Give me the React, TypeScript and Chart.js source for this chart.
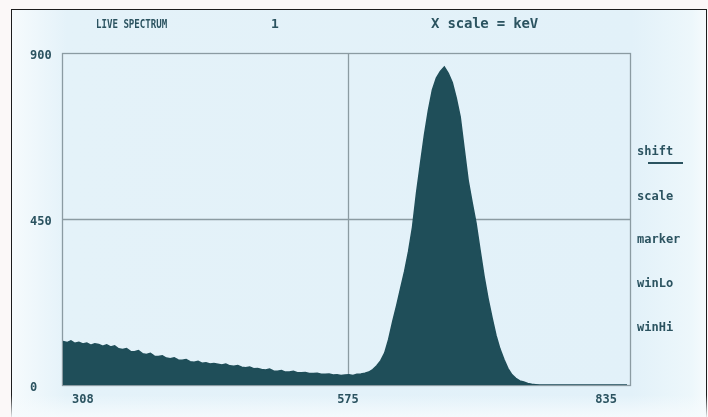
import React, { useEffect, useRef } from "react";
import { Chart, registerables } from "chart.js";

Chart.register(...registerables);

// Spectrum histogram: bins of 4 keV starting at 288 keV
const binStart = 288;
const binWidth = 4;
const counts = [
  118, 115, 120, 113, 116, 111, 114, 108, 112, 110,
  105, 109, 103, 106, 98, 96, 99, 91, 90, 93,
  85, 83, 86, 78, 77, 79, 73, 71, 74, 68,
  67, 69, 63, 62, 64, 59, 60, 57, 58, 56,
  54, 57, 52, 51, 53, 48, 47, 49, 44, 45,
  42, 41, 43, 38, 37, 39, 35, 35, 37, 33,
  33, 34, 31, 31, 32, 29, 29, 30, 27, 28,
  26, 27, 28, 26, 29, 30, 32, 35, 42, 52,
  66, 87, 124, 172, 215, 262, 308, 362, 428, 520,
  600, 678, 745, 800, 832, 850, 862, 845, 820, 778,
  727, 640, 555, 495, 438, 366, 295, 235, 183, 135,
  98, 70, 45, 28, 18, 11, 8, 4, 2, 1,
  0, 0, 0, 0, 0, 0, 0, 0, 0, 0,
  0, 0, 0, 0, 0, 0, 0, 0, 0, 0,
  0, 0, 0,
];
const xMin = 287;
const xMax = 859;
const xTicks = [308, 575, 835];
const yTicks = [0, 450, 900];
const xGrid = 575;
const yGrid = 450;

const titleLeft = "LIVE SPECTRUM";
const titleNum = "1";
const titleRight = "X scale = keV";
const menuItems = ["shift", "scale", "marker", "winLo", "winHi"];

const TEXT = "#2b5360";
const FILL = "#1f4e59";
const LINE = "#8b9ba2";
const FONT = "'DejaVu Sans Mono', monospace";

export default function App() {
  const ref = useRef<HTMLCanvasElement | null>(null);

  useEffect(() => {
    if (!ref.current) return;
    const points = counts.map((c, i) => ({ x: binStart + i * binWidth, y: c }));

    const framePlugin = {
      id: "frame",
      beforeDatasetsDraw(chart: any) {
        const { ctx, chartArea: a, scales } = chart;
        ctx.save();
        ctx.strokeStyle = LINE;
        ctx.lineWidth = 1.3;
        const gx = Math.round(scales.x.getPixelForValue(xGrid)) + 0.5;
        const gy = Math.round(scales.y.getPixelForValue(yGrid)) + 0.5;
        ctx.beginPath();
        ctx.moveTo(gx, a.top);
        ctx.lineTo(gx, a.bottom);
        ctx.moveTo(a.left, gy);
        ctx.lineTo(a.right, gy);
        ctx.stroke();
        ctx.strokeRect(a.left + 0.5, a.top + 0.5, a.right - a.left, a.bottom - a.top);
        ctx.restore();
      },
    };

    const chart = new Chart(ref.current, {
      type: "line",
      data: {
        datasets: [
          {
            data: points,
            fill: "origin",
            backgroundColor: FILL,
            borderColor: FILL,
            borderWidth: 1.5,
            pointRadius: 0,
            tension: 0,
          },
        ],
      },
      options: {
        animation: false,
        responsive: false,
        events: [],
        layout: { padding: { left: 30, top: 53, right: 78, bottom: 0 } },
        plugins: { legend: { display: false }, tooltip: { enabled: false } },
        scales: {
          x: {
            type: "linear",
            min: xMin,
            max: xMax,
            afterBuildTicks: (s: any) => {
              s.ticks = xTicks.map((v) => ({ value: v }));
            },
            afterFit: (s: any) => {
              s.height = 32;
            },
            grid: { display: false, drawTicks: false },
            border: { display: false },
            ticks: {
              padding: 8,
              autoSkip: false,
              maxRotation: 0,
              color: TEXT,
              font: { family: FONT, size: 12, weight: "bold" },
              callback: (v: any) => String(v),
            },
          },
          y: {
            min: 0,
            max: 900,
            afterBuildTicks: (s: any) => {
              s.ticks = yTicks.map((v) => ({ value: v }));
            },
            afterFit: (s: any) => {
              s.width = 32;
            },
            grid: { display: false, drawTicks: false },
            border: { display: false },
            ticks: {
              crossAlign: "far",
              labelOffset: 3,
              color: TEXT,
              font: { family: FONT, size: 12, weight: "bold" },
              callback: (v: any) => String(v),
            },
          },
        },
      },
      plugins: [framePlugin],
    } as any);
    return () => chart.destroy();
  }, []);

  const txt = (s: string, left: number, cy: number, size: number, extra: any = {}) => (
    <div
      key={s}
      style={{
        position: "absolute",
        left,
        top: cy - size / 2,
        fontFamily: FONT,
        fontWeight: "bold",
        fontSize: size,
        lineHeight: `${size}px`,
        color: TEXT,
        whiteSpace: "pre",
        ...extra,
      }}
    >
      {s}
    </div>
  );

  return (
    <div
      style={{
        position: "fixed",
        left: 0,
        top: 0,
        width: 708,
        height: 417,
        overflow: "hidden",
        background: "#fbf8f8",
      }}
    >
      <div
        style={{
          position: "absolute",
          left: 11,
          top: 9,
          width: 696,
          height: 430,
          boxSizing: "border-box",
          borderLeft: "1.5px solid #1d1d1d",
          borderTop: "1.5px solid #1d1d1d",
          borderRight: "1.5px solid #1d1d1d",
          background:
            "linear-gradient(to right, #f6fbfd 0px, #e4f2f9 55px, #e2f1f9 620px, #edf7fb 680px, #f7fbfd 696px)",
        }}
      />
      <div
        style={{
          position: "absolute",
          left: 11,
          top: 395,
          width: 696,
          height: 22,
          background: "linear-gradient(to bottom, rgba(246,251,253,0), rgba(246,251,253,0.9))",
        }}
      />
      <canvas ref={ref} width={708} height={417} style={{ position: "absolute", left: 0, top: 0 }} />
      {txt(titleLeft, 96, 23, 13, { transform: "scaleX(0.7)", transformOrigin: "left center" })}
      {txt(titleNum, 271, 23, 13)}
      {txt(titleRight, 431, 23, 14, { letterSpacing: "-0.2px" })}
      {menuItems.map((m, i) => txt(m, 637, [151, 196, 239, 283, 327][i], 12))}
      <div
        style={{
          position: "absolute",
          left: 648,
          top: 162,
          width: 35,
          height: 1.5,
          background: TEXT,
        }}
      />
    </div>
  );
}
